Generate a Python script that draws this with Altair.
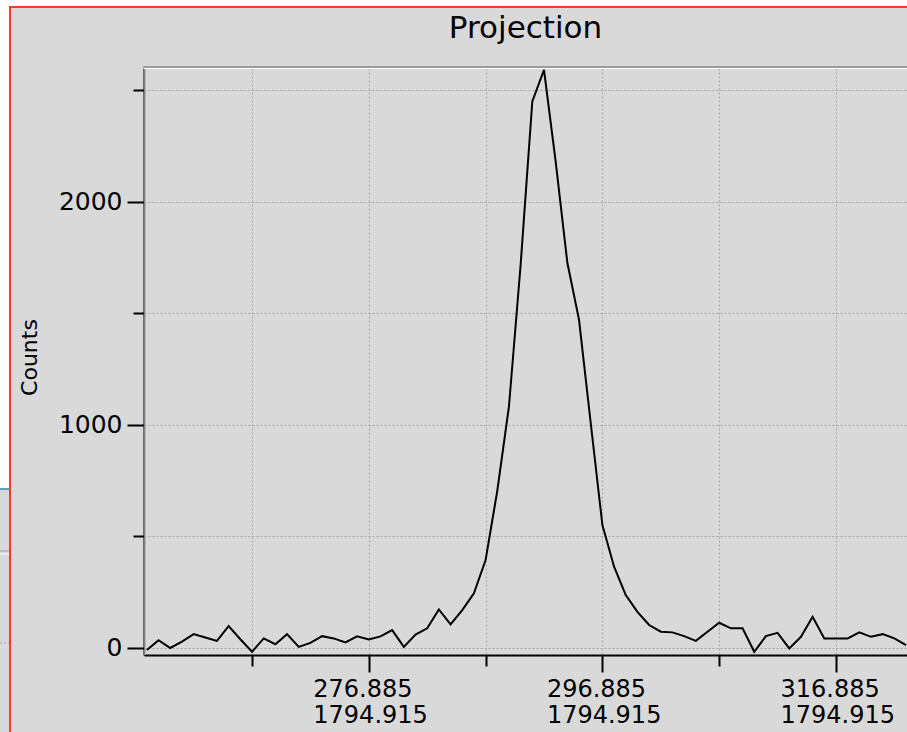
import altair as alt
import pandas as pd

# ---- data ----
counts = [-9, 35, 0, 29, 62, 47, 32, 98, 39, -17,
          43, 17, 62, 5, 23, 53, 43, 25, 52, 38,
          52, 80, 5, 60, 88, 173, 106, 170, 245, 394,
          704, 1082, 1717, 2449, 2590, 2179, 1726, 1470, 1008, 551,
          364, 237, 162, 103, 73, 70, 53, 32, 73, 113,
          88, 88, -17, 53, 68, -2, 50, 140, 43, 43,
          43, 70, 50, 62, 43, 13]
first_bin = 257.885
bin_step = 1.0
positions = [round(first_bin + i * bin_step, 3) for i in range(len(counts))]

x_ticks = [266.885, 276.885, 286.885, 296.885, 306.885, 316.885]
x_labelled = [276.885, 296.885, 316.885]
x_second_line = "1794.915"
y_ticks = [0, 500, 1000, 1500, 2000, 2500]
y_labelled = [0, 1000, 2000]
x_domain = [257.638, 322.965]
y_domain = [-31.4, 2598.6]
title_text = "Projection"
y_title = "Counts"

df = pd.DataFrame({"position": positions, "counts": counts})

FONT = "DejaVu Sans"
GRID = "#a4a4a4"

x_cond = " || ".join(f"abs(datum.value - {v}) < 0.01" for v in x_labelled)
x_label_expr = f"({x_cond}) ? [format(datum.value, '.3f'), '{x_second_line}'] : ''"
y_cond = " || ".join(f"datum.value === {v}" for v in y_labelled)
y_label_expr = f"({y_cond}) ? format(datum.value, 'd') : ''"

x_axis = alt.Axis(
    values=x_ticks, labelExpr=x_label_expr,
    tickSize={"condition": {"test": x_cond, "value": 17}, "value": 11},
    tickWidth=2, tickColor="black", domainColor="black", domainWidth=2,
    grid=True, gridColor=GRID, gridDash=[2, 2], gridWidth=1,
    labelFont=FONT, labelFontSize=24, labelColor="black",
    labelAlign="left", labelOffset=-56, labelBaseline="top",
    labelPadding=5, labelLineHeight=26, labelOverlap=False, labelFlush=False,
    title=None,
)
y_axis = alt.Axis(
    values=y_ticks, labelExpr=y_label_expr,
    tickSize={"condition": {"test": y_cond, "value": 17}, "value": 11},
    tickWidth=2, tickColor="black", domainColor="black", domainWidth=2,
    grid=True, gridColor=GRID, gridDash=[2, 2], gridWidth=1,
    labelFont=FONT, labelFontSize=25, labelColor="black",
    labelAlign="right", labelBaseline="middle", labelPadding=5,
    labelOverlap=False, labelFlush=False,
    title=y_title, titleFont=FONT, titleFontSize=22, titleFontWeight="normal",
    titleColor="black", titleX=-115, titleY=289, titleAlign="center",
    titleBaseline="middle",
)

line = alt.Chart(df).mark_line(color="black", strokeWidth=2, clip=True).encode(
    x=alt.X("position:Q", scale=alt.Scale(domain=x_domain, nice=False, zero=False), axis=x_axis),
    y=alt.Y("counts:Q", scale=alt.Scale(domain=y_domain, nice=False, zero=False), axis=y_axis),
)

one = alt.Data(values=[{"t": title_text}])


def box(color, x, x2, y, y2):
    return alt.Chart(one).mark_rect(color=color).encode(
        x=alt.value(x), x2=alt.value(x2), y=alt.value(y), y2=alt.value(y2))


# window decorations around the panel
deco = [
    box("white", -150, 780, -80, -62),      # strip above the red frame
    box("white", -150, -135, -80, 420),     # strip left of the red frame
    box("#5a9fb8", -150, -135, 420, 422),   # teal edge on the left strip
    box("#a0a0a0", -150, -135, 482.5, 483.5),
    box("white", -150, -135, 485.5, 486.5),
    box("#ff3b1e", -135, -133, -62, 700),   # red frame vertical
    box("#ff3b1e", -135, 780, -62, -60),    # red frame horizontal
    box("#9c9c9c", -1, 780, -2, 0),         # sunken plot frame top
    box("white", 0, 780, 0, 1),
    box("white", 0.5, 1.5, 0, 587),
]
dots = alt.Chart(one).mark_rule(color="#a0a0a0", strokeDash=[2, 2]).encode(
    x=alt.value(-144), x2=alt.value(-135), y=alt.value(575))

title = alt.Chart(one).mark_text(
    font=FONT, fontSize=31, color="black", align="center", baseline="alphabetic"
).encode(x=alt.value(381.5), y=alt.value(-30), text="t:N")

chart = alt.layer(*deco, dots, title, line).properties(
    width=763, height=587,
    autosize=alt.AutoSizeParams(type="none"),
    padding={"left": 144, "top": 68, "right": 0, "bottom": 77},
    background="#d9d9d9",
).configure_view(stroke="transparent")

chart.save("out.html", embed_options={"renderer": "svg", "actions": False})
